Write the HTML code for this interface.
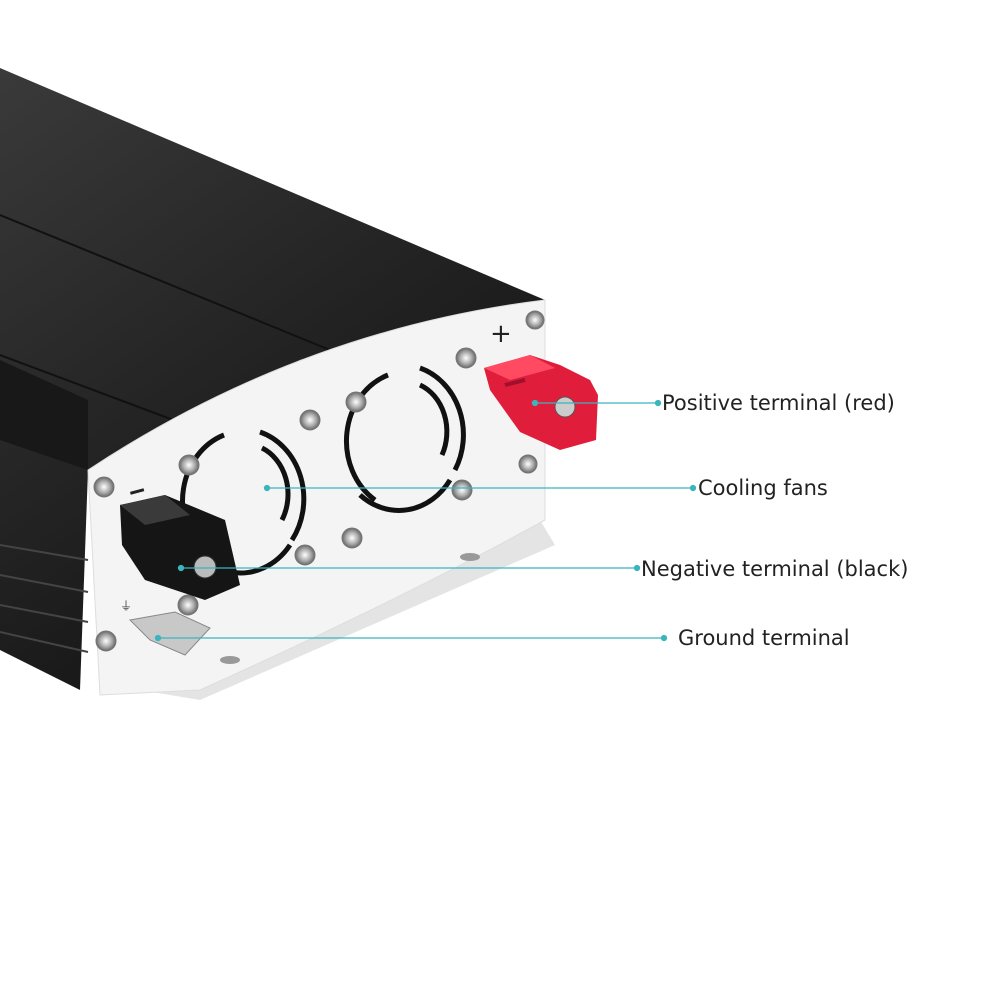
<!DOCTYPE html>
<html><head><style>body{margin:0;background:#fff}svg{display:block}text{font-family:"DejaVu Sans","Liberation Sans",sans-serif}</style></head><body>
<svg width="1000" height="1000" viewBox="0 0 1000 1000">
<defs>
<linearGradient id="top" x1="0" y1="0" x2="0.6" y2="1"><stop offset="0" stop-color="#3a3a3a"/><stop offset="0.5" stop-color="#252525"/><stop offset="1" stop-color="#111"/></linearGradient>
<radialGradient id="scr"><stop offset="0" stop-color="#fff"/><stop offset="0.6" stop-color="#aaa"/><stop offset="1" stop-color="#666"/></radialGradient>
</defs>
<polygon points="0,68 545,300 300,360 88,470 80,690 0,650" fill="url(#top)"/>
<polygon points="0,360 88,400 88,470 0,440" fill="#181818"/>
<line x1="0" y1="215" x2="330" y2="350" stroke="#111" stroke-width="2"/>
<line x1="0" y1="355" x2="200" y2="430" stroke="#111" stroke-width="2"/>
<g stroke="#444" stroke-width="2">
<line x1="0" y1="545" x2="88" y2="560"/><line x1="0" y1="575" x2="88" y2="592"/><line x1="0" y1="605" x2="88" y2="622"/><line x1="0" y1="632" x2="88" y2="652"/></g>
<!-- bracket -->
<polygon points="300,560 540,520 555,545 200,700 140,690" fill="#e4e4e4"/>
<!-- faceplate -->
<path d="M88,470 Q300,330 545,300 L545,520 Q400,600 200,690 L100,695 Z" fill="#f4f4f4" stroke="#ddd"/>
<ellipse cx="470" cy="557" rx="10" ry="4" fill="#999"/><ellipse cx="230" cy="660" rx="10" ry="4" fill="#999"/>
<!-- fans -->
<g fill="none" stroke="#111" stroke-width="5">
<path d="M224,435 A62,70 0 0 0 205,555"/><path d="M260,432 A62,70 0 0 1 292,540"/><path d="M262,448 A42,50 0 0 1 282,520"/>
<path d="M230,572 A62,70 0 0 0 290,545"/>
<path d="M388,375 A62,70 0 0 0 375,500"/><path d="M420,368 A62,70 0 0 1 455,470"/><path d="M420,385 A42,50 0 0 1 442,455"/>
<path d="M360,495 A62,70 0 0 0 450,480"/></g>
<!-- screws -->
<g fill="url(#scr)" stroke="#777" stroke-width="1">
<circle cx="104" cy="487" r="10"/><circle cx="189" cy="465" r="10"/><circle cx="310" cy="420" r="10"/><circle cx="356" cy="402" r="10"/><circle cx="466" cy="358" r="10"/><circle cx="535" cy="320" r="9"/><circle cx="528" cy="464" r="9"/><circle cx="462" cy="490" r="10"/><circle cx="352" cy="538" r="10"/><circle cx="305" cy="555" r="10"/><circle cx="188" cy="605" r="10"/><circle cx="106" cy="641" r="10"/></g>
<text x="490" y="342" font-size="26" fill="#222">+</text>
<rect x="130" y="490" width="14" height="3" fill="#222" transform="rotate(-15 137 491)"/>
<!-- red terminal -->
<path d="M484,368 L530,355 L560,365 L590,380 L598,395 L596,440 L560,450 L520,432 L490,390 Z" fill="#e01e3c"/>
<path d="M484,368 L530,355 L555,368 L510,380 Z" fill="#ff4a62"/>
<path d="M505,385 L525,380" stroke="#a0102a" stroke-width="4"/>
<circle cx="565" cy="407" r="10" fill="#ccc" stroke="#555"/>
<!-- black terminal -->
<path d="M120,505 L165,495 L225,520 L240,585 L205,600 L145,580 L122,545 Z" fill="#151515"/>
<path d="M120,505 L165,495 L190,515 L145,525 Z" fill="#3a3a3a"/>
<circle cx="205" cy="567" r="11" fill="#bbb" stroke="#333"/>
<!-- ground -->
<path d="M130,620 L175,612 L210,628 L185,655 L150,640 Z" fill="#c8c8c8" stroke="#888"/>
<text x="120" y="610" font-size="12" fill="#444">⏚</text>
<!-- callouts -->
<g stroke="#3bb5bd" stroke-width="1.3" fill="#3bb5bd">
<line x1="535" y1="403" x2="658" y2="403"/><circle cx="535" cy="403" r="2.5"/><circle cx="658" cy="403" r="2.5"/>
<line x1="267" y1="488" x2="693" y2="488"/><circle cx="267" cy="488" r="2.5"/><circle cx="693" cy="488" r="2.5"/>
<line x1="181" y1="568" x2="637" y2="568"/><circle cx="181" cy="568" r="2.5"/><circle cx="637" cy="568" r="2.5"/>
<line x1="158" y1="638" x2="664" y2="638"/><circle cx="158" cy="638" r="2.5"/><circle cx="664" cy="638" r="2.5"/>
</g>
<g font-size="21" fill="#222">
<text x="662" y="410">Positive terminal (red)</text>
<text x="698" y="495">Cooling fans</text>
<text x="641" y="576">Negative terminal (black)</text>
<text x="678" y="645">Ground terminal</text>
</g>
</svg>
</body></html>
